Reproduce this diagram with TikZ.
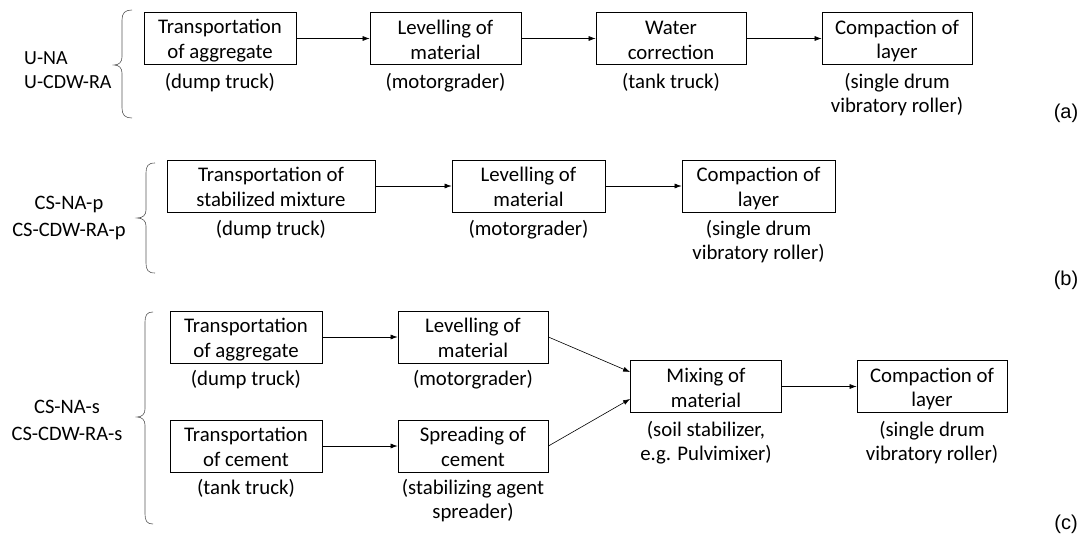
\documentclass[tikz,border=0pt]{standalone}
\usepackage{fontspec}
\setmainfont{Carlito}
\newfontfamily\arialfont{Liberation Sans}
\usetikzlibrary{arrows.meta,calc}
\newcommand\ls{\rule[-2.5pt]{0pt}{21.5pt}}
\begin{document}
\begin{tikzpicture}[x=1pt,y=-1pt,
  procbox/.style={draw,line width=0.8pt,minimum height=52pt,inner sep=0pt,align=center,font=\fontsize{20.8}{24.6}\selectfont},
  sublbl/.style={anchor=base,inner sep=0pt,align=center,font=\fontsize{20.8}{23.5}\selectfont},
  grplbl/.style={anchor=base,inner sep=0pt,align=center,font=\fontsize{20.5}{26.5}\selectfont},
  panel/.style={anchor=base,inner sep=0pt,font=\arialfont\fontsize{20}{24}\selectfont},
  flow/.style={-{Latex[length=7pt,width=5pt]},line width=0.6pt},
  brc/.style={line width=0.6pt,draw=black!65}]
\useasboundingbox (0,0) rectangle (1084,538);

% ---------------- row (a)
\node[anchor=base west,inner sep=0pt,align=left,font=\fontsize{20}{23.5}\selectfont] (la) at (24,88) {U-NA\\U-CDW-RA};
\draw[brc] (132,10) .. controls (125,10) and (122,13) .. (122,20) -- (122,57)
  .. controls (122,62) and (119,65) .. (114,65) .. controls (119,65) and (122,68) .. (122,73)
  -- (122,108) .. controls (122,115) and (125,118) .. (132,118);
\node[procbox,minimum width=152pt] (a1) at (220,38.5) {\ls Transportation\\of aggregate\ls};
\node[procbox,minimum width=151pt] (a2) at (445.5,38.5) {\ls Levelling of\\material\ls};
\node[procbox,minimum width=150pt] (a3) at (671,38.5) {\ls Water\\correction\ls};
\node[procbox,minimum width=150pt] (a4) at (897,38.5) {\ls Compaction of\\layer\ls};
\node[sublbl] (sa1) at (220,88.5) {(dump truck)};
\node[sublbl] (sa2) at (445.5,88.5) {(motorgrader)};
\node[sublbl] (sa3) at (671,88.5) {(tank truck)};
\node[sublbl] (sa4) at (897,112) {(single drum\\vibratory roller)};
\draw[flow] (a1) -- (a2);
\draw[flow] (a2) -- (a3);
\draw[flow] (a3) -- (a4);
\node[panel] (pa) at (1066,118) {(a)};

% ---------------- row (b)
\node[grplbl] (lb) at (69,236) {CS-NA-p\\CS-CDW-RA-p};
\draw[brc] (155,163) .. controls (148,163) and (146,166) .. (146,173) -- (146,210)
  .. controls (146,215) and (143,218) .. (137,218) .. controls (143,218) and (146,221) .. (146,226)
  -- (146,263) .. controls (146,270) and (148,273) .. (155,273);
\node[procbox,minimum width=208pt] (b1) at (271,186) {\ls Transportation of\\stabilized mixture\ls};
\node[procbox,minimum width=153pt] (b2) at (528.5,186) {\ls Levelling of\\material\ls};
\node[procbox,minimum width=153pt] (b3) at (758.5,186) {\ls Compaction of\\layer\ls};
\node[sublbl] (sb1) at (271,235.5) {(dump truck)};
\node[sublbl] (sb2) at (528.5,235.5) {(motorgrader)};
\node[sublbl] (sb3) at (758.5,259) {(single drum\\vibratory roller)};
\draw[flow] (b1) -- (b2);
\draw[flow] (b2) -- (b3);
\node[panel] (pb) at (1066,285) {(b)};

% ---------------- row (c)
\node[grplbl] (lc) at (67,440) {CS-NA-s\\CS-CDW-RA-s};
\draw[brc] (153,312) .. controls (147,312) and (145,315) .. (145,322) -- (145,409)
  .. controls (145,414) and (142,417) .. (137,417) .. controls (142,417) and (145,420) .. (145,425)
  -- (145,514) .. controls (145,521) and (147,524) .. (153,524);
\node[procbox,minimum width=152pt] (c1) at (246,337) {\ls Transportation\\of aggregate\ls};
\node[procbox,minimum width=152pt] (c2) at (246,446) {\ls Transportation\\of cement\ls};
\node[procbox,minimum width=150pt] (c3) at (473,337) {\ls Levelling of\\material\ls};
\node[procbox,minimum width=150pt] (c4) at (473,446) {\ls Spreading of\\cement\ls};
\node[procbox,minimum width=151pt] (c5) at (706,386.5) {\ls Mixing of\\material\ls};
\node[procbox,minimum width=150pt] (c6) at (932,386.5) {\ls Compaction of\\layer\ls};
\node[sublbl] (sc1) at (246,385.5) {(dump truck)};
\node[sublbl] (sc2) at (246,494.5) {(tank truck)};
\node[sublbl] (sc3) at (473,385.5) {(motorgrader)};
\node[sublbl] (sc4) at (473,518) {(stabilizing agent\\spreader)};
\node[sublbl] (sc5) at (706,460) {(soil stabilizer,\\e.g. Pulvimixer)};
\node[sublbl] (sc6) at (932,460) {(single drum\\vibratory roller)};
\draw[flow] (c1) -- (c3);
\draw[flow] (c2) -- (c4);
\draw[flow] (c3.east) -- ($(c5.west)+(0,-14.5)$);
\draw[flow] (c4.east) -- ($(c5.west)+(0,12.5)$);
\draw[flow] (c5) -- (c6);
\node[panel] (pc) at (1066,529) {(c)};
\end{tikzpicture}
\end{document}
